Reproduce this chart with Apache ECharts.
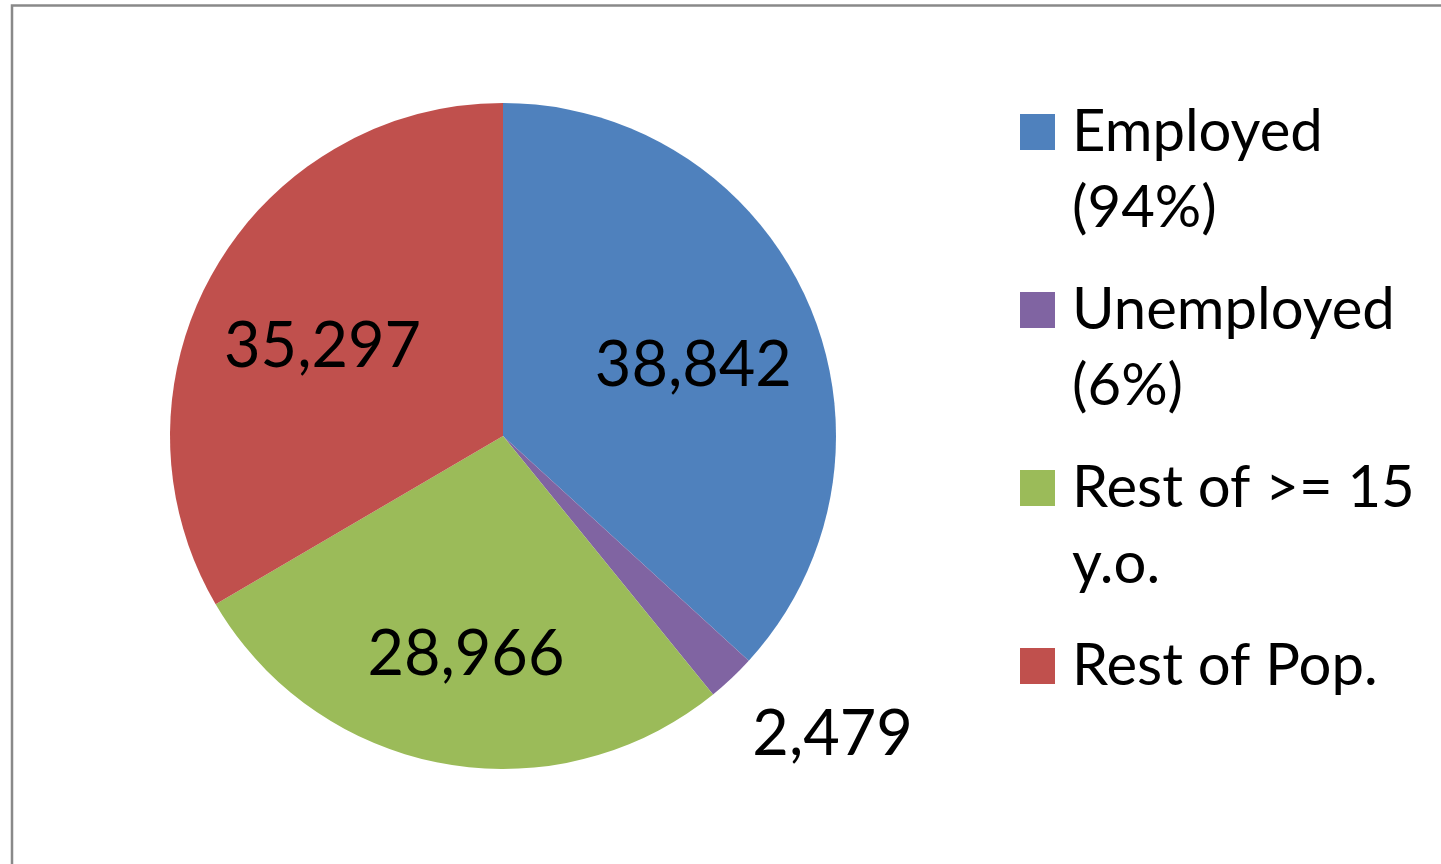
<!DOCTYPE html>
<html>
<head>
<meta charset="utf-8">
<script src="https://cdn.jsdelivr.net/npm/echarts@6/dist/echarts.min.js"></script>
<style>
  html, body { margin: 0; padding: 0; background: #fff; overflow: hidden; }
  #chart { width: 1441px; height: 864px; }
</style>
</head>
<body>
<div id="chart"></div>
<script>
const categories = ["Employed (94%)", "Unemployed (6%)", "Rest of >= 15 y.o.", "Rest of Pop."];
const values = [38842, 2479, 28966, 35297];
// legend text as wrapped in the original (blank lines keep the icon on the first line)
const legendLabels = ["\nEmployed\n(94%)", "\nUnemployed\n(6%)", "\nRest of >= 15\ny.o.", "\nRest of Pop.\n"];
const colorList = ["#4F81BD", "#8064A2", "#9BBB59", "#C0504D"];

const fontFamily = "Lato";
const fmt = (v) => v.toLocaleString("en-US");

const myChart = echarts.init(document.getElementById("chart"));
myChart.setOption({
  animation: false,
  color: colorList,
  graphic: [
    {
      type: "rect",
      shape: { x: 12, y: 5.5, width: 1600, height: 1000 },
      style: { fill: "none", stroke: "#898989", lineWidth: 2.5 },
      silent: true,
      z: 0,
    },
  ],
  legend: {
    orient: "vertical",
    left: 1020,
    top: 18,
    padding: 0,
    itemWidth: 35,
    itemHeight: 36,
    itemGap: -50,
    icon: "rect",
    selectedMode: false,
    data: categories,
    formatter: (name) => legendLabels[categories.indexOf(name)],
    textStyle: {
      fontFamily: fontFamily,
      fontSize: 58,
      lineHeight: 76,
      color: "#000",
      padding: [0, 0, 0, 12],
    },
  },
  series: [
    {
      // the slices
      type: "pie",
      center: [503, 436],
      radius: [0, 333],
      startAngle: 90,
      silent: true,
      label: { show: false },
      labelLine: { show: false },
      data: categories.map((name, i) => ({ name, value: values[i] })),
    },
    {
      // transparent copy, only used to place the value labels further out
      type: "pie",
      center: [503, 450],
      radius: [0, 410],
      startAngle: 90,
      silent: true,
      avoidLabelOverlap: false,
      itemStyle: { color: "rgba(0,0,0,0)" },
      label: {
        show: true,
        position: "inside",
        fontFamily: fontFamily,
        fontSize: 63,
        color: "#000",
        formatter: (p) => fmt(p.value),
      },
      labelLine: { show: false, length: 0, length2: 0 },
      data: categories.map((name, i) => ({
        name,
        value: values[i],
        label: i === 1 ? { position: "outside", distanceToLabelLine: -19 } : undefined,
        labelLine: i === 1 ? { show: false, length: -19, length2: 0 } : undefined,
      })),
    },
  ],
});
</script>
</body>
</html>
